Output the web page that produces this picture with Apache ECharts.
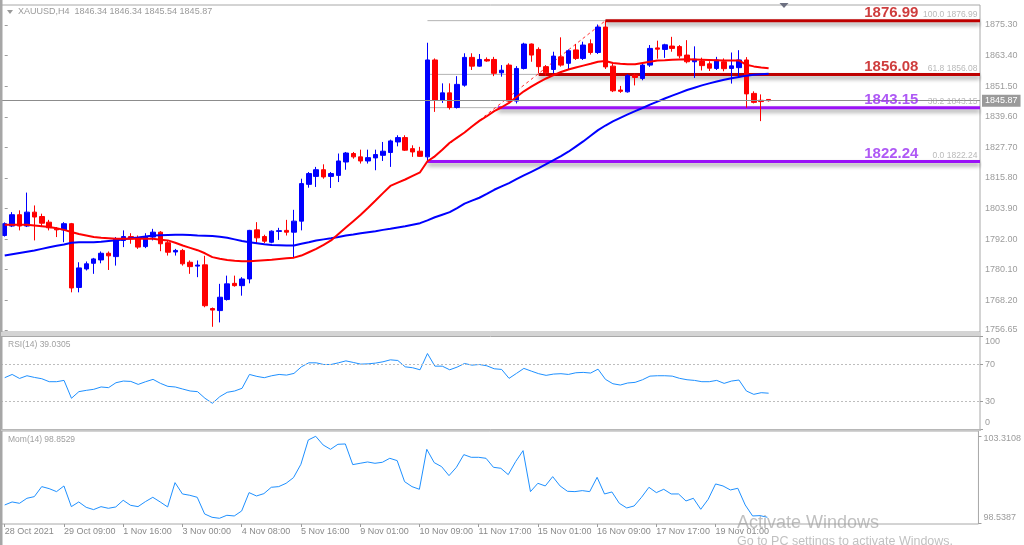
<!DOCTYPE html>
<html><head><meta charset="utf-8">
<script src="https://cdn.jsdelivr.net/npm/echarts@6/dist/echarts.min.js"></script>
<style>html,body{margin:0;padding:0;background:#fff}#c{width:1024px;height:545px}</style>
</head><body><div id="c"></div>
<script>
// ---------------- DATA ----------------
const dateLabels = ['28 Oct 2021','29 Oct 09:00','1 Nov 16:00','3 Nov 00:00','4 Nov 08:00','5 Nov 16:00','9 Nov 01:00','10 Nov 09:00','11 Nov 17:00','15 Nov 01:00','16 Nov 09:00','17 Nov 17:00','19 Nov 01:00'];

const opens = [1793.4,1797.1,1801.5,1797.1,1802.5,1800.8,1798.6,1796.0,1795.6,1798.0,
1773.2,1780.4,1782.6,1783.9,1786.5,1785.2,1791.5,1793.0,1792.5,1789.1,
1792.8,1794.7,1790.6,1787.0,1787.6,1783.0,1781.5,1782.0,1765.0,1764.2,
1768.5,1774.8,1773.9,1776.5,1795.6,1793.0,1790.8,1795.0,1795.4,1794.7,
1799.0,1813.3,1816.4,1819.0,1816.4,1816.8,1822.0,1825.3,1824.0,1822.4,
1823.6,1824.6,1825.7,1829.8,1831.5,1827.2,1826.2,1824.0,1861.7,1846.1,
1848.9,1843.2,1851.9,1862.7,1859.3,1861.9,1861.9,1856.7,1859.7,1845.7,
1858.4,1867.9,1865.8,1859.1,1858.0,1862.9,1860.4,1865.6,1862.3,1868.0,
1864.6,1874.5,1859.3,1850.0,1849.3,1855.8,1854.5,1859.7,1866.4,1865.8,
1867.1,1866.9,1863.6,1861.0,1861.3,1860.2,1858.4,1861.0,1858.4,1858.7,
1861.7,1848.7,1846.0,1846.34];
const highs = [1798.5,1802.5,1803.2,1810.1,1805.1,1801.9,1799.5,1796.7,1798.6,1798.3,
1783.0,1783.3,1784.7,1787.2,1787.2,1792.8,1795.4,1794.3,1793.4,1794.3,
1796.0,1795.1,1791.5,1788.2,1788.2,1783.7,1783.7,1785.5,1765.4,1774.6,
1777.8,1777.8,1777.2,1795.6,1798.6,1793.7,1795.4,1796.4,1799.5,1803.4,
1815.5,1818.1,1820.1,1821.1,1818.1,1825.3,1825.9,1825.9,1826.8,1826.8,
1826.8,1829.8,1830.7,1832.4,1832.4,1828.5,1827.9,1868.4,1862.3,1852.6,
1852.6,1855.4,1864.3,1864.3,1864.0,1862.7,1862.9,1859.7,1860.4,1859.3,
1868.4,1868.1,1866.6,1859.7,1864.9,1870.5,1865.8,1867.9,1868.8,1869.7,
1875.5,1876.99,1860.2,1851.6,1856.2,1856.4,1860.4,1867.5,1869.2,1868.0,
1870.7,1867.5,1869.4,1867.0,1862.6,1861.2,1862.9,1862.3,1864.6,1865.5,
1862.8,1849.5,1848.3,1846.34];
const lows = [1793.0,1796.7,1795.4,1796.7,1791.5,1796.7,1795.4,1792.8,1790.8,1771.3,
1771.3,1779.8,1778.5,1782.6,1780.0,1781.7,1788.9,1790.2,1788.2,1788.5,
1791.5,1787.3,1785.6,1785.6,1781.7,1778.5,1777.2,1765.5,1757.9,1759.6,
1768.1,1773.5,1770.0,1774.8,1790.4,1790.4,1790.4,1791.7,1793.4,1785.0,
1795.4,1812.0,1812.3,1815.5,1811.9,1814.2,1819.0,1823.3,1821.4,1821.4,
1818.8,1822.4,1820.1,1828.1,1826.3,1824.0,1824.0,1822.24,1841.5,1845.0,
1842.4,1842.8,1851.3,1857.8,1859.1,1861.0,1855.4,1855.2,1845.4,1844.8,
1858.0,1861.0,1856.5,1855.6,1856.5,1859.1,1857.8,1861.7,1861.7,1863.8,
1864.0,1858.2,1849.2,1848.9,1849.0,1851.8,1853.8,1859.0,1862.2,1862.5,
1864.9,1862.3,1860.4,1854.7,1857.6,1857.4,1857.8,1857.3,1852.5,1855.0,
1843.15,1844.8,1837.9,1845.54];
const closes = [1798.0,1801.5,1797.1,1802.5,1800.6,1798.2,1796.4,1795.6,1798.0,1773.0,
1780.8,1782.4,1784.3,1786.5,1785.5,1792.1,1793.0,1792.1,1788.9,1793.0,
1794.7,1790.2,1786.9,1787.6,1782.4,1781.3,1781.9,1766.1,1764.4,1769.4,
1774.6,1773.9,1776.5,1795.4,1792.5,1791.2,1795.1,1795.3,1794.7,1799.0,
1813.6,1817.5,1819.0,1816.2,1817.5,1822.4,1825.5,1824.0,1822.4,1823.7,
1824.9,1826.2,1830.2,1831.5,1826.6,1825.9,1824.2,1861.7,1846.1,1848.9,
1843.2,1852.2,1862.7,1859.3,1861.9,1861.3,1856.5,1857.7,1845.7,1858.4,
1867.9,1863.6,1859.1,1856.7,1863.2,1859.7,1865.3,1862.3,1867.5,1864.6,
1874.5,1859.0,1849.7,1849.5,1855.6,1854.9,1859.7,1866.2,1865.9,1867.6,
1866.2,1863.3,1861.0,1862.0,1859.5,1858.5,1861.7,1858.3,1859.4,1861.7,
1848.5,1845.2,1845.5,1845.87];

const maFast = [1797.6,1797.6,1797.6,1797.6,1797.3,1797.0,1796.7,1796.2,1795.6,1794.8,
1794.0,1793.4,1792.8,1792.5,1792.3,1792.1,1792.1,1792.1,1792.1,1792.1,
1792.1,1791.8,1791.5,1790.6,1789.5,1788.6,1787.7,1786.5,1785.0,1784.4,
1783.9,1783.6,1783.4,1783.4,1783.6,1783.8,1784.0,1784.3,1784.6,1784.8,
1785.6,1786.9,1788.2,1789.8,1791.5,1794.0,1796.5,1799.0,1801.5,1804.2,
1807.0,1809.9,1812.7,1814.0,1815.2,1816.6,1818.0,1822.3,1824.2,1826.8,
1829.5,1831.5,1833.5,1835.8,1838.0,1839.8,1841.8,1843.3,1845.0,1847.3,
1849.5,1851.3,1853.0,1854.5,1855.8,1857.0,1858.0,1858.8,1859.5,1860.2,
1861.0,1861.3,1860.5,1860.2,1860.0,1860.0,1860.5,1861.0,1861.5,1861.6,
1861.8,1861.9,1862.0,1861.9,1861.8,1861.7,1861.6,1861.5,1861.5,1861.5,
1859.8,1859.2,1858.8,1858.5];
const maSlow = [1785.6,1786.1,1786.6,1787.1,1787.6,1788.2,1788.8,1789.4,1789.9,1790.6,
1790.8,1790.8,1790.8,1791.0,1791.3,1791.6,1791.9,1792.3,1792.6,1793.0,
1793.4,1793.5,1793.6,1793.7,1793.7,1793.6,1793.4,1793.3,1793.2,1792.9,
1792.5,1791.9,1791.3,1790.8,1790.4,1790.0,1789.7,1789.6,1789.5,1789.5,
1790.2,1790.8,1791.5,1791.9,1792.3,1792.8,1793.4,1793.8,1794.3,1794.7,
1795.1,1795.6,1796.0,1796.5,1797.0,1797.6,1798.2,1799.3,1800.5,1801.5,
1802.5,1804.1,1805.8,1807.0,1808.1,1809.6,1811.2,1812.5,1813.8,1815.3,
1816.8,1818.2,1819.6,1821.2,1822.7,1824.3,1826.0,1828.0,1830.0,1832.2,
1834.4,1836.2,1837.8,1839.2,1840.5,1841.8,1843.0,1844.3,1845.5,1846.7,
1847.8,1848.9,1850.0,1850.9,1851.8,1852.6,1853.3,1854.0,1854.6,1855.1,
1855.6,1855.9,1856.1,1856.3];

const rsi = [55.7,59.2,54.9,57.8,56.0,54.6,51.4,51.4,52.8,33.6,
40.7,42.1,43.2,45.7,45.0,50.3,52.1,51.7,48.5,51.4,
53.9,49.6,46.4,45.7,43.5,41.4,40.7,33.6,28.2,35.3,
40.0,41.4,44.3,59.2,57.1,55.7,57.8,59.2,58.5,60.3,
67.4,71.7,71.7,69.9,69.9,71.7,73.8,72.1,70.3,70.6,
71.4,72.8,74.9,74.2,67.4,66.4,64.2,81.7,68.1,68.1,
64.2,67.1,71.0,69.2,69.9,68.5,65.3,64.6,55.0,60.3,
65.7,62.8,60.0,58.2,59.6,60.0,59.2,61.0,61.4,60.7,
64.9,53.9,49.2,47.8,50.0,50.7,53.5,57.4,57.8,57.8,
57.4,55.0,53.5,52.8,51.4,51.4,52.8,49.6,52.1,53.2,
41.4,37.8,39.6,39.03];
const mom = [99.532,99.697,99.623,99.899,99.990,100.541,100.431,100.266,100.577,99.440,
99.697,99.403,99.275,99.440,99.348,99.422,99.789,99.513,99.440,99.715,
99.954,99.697,99.422,100.761,100.137,100.064,99.954,99.036,98.853,98.798,
98.963,98.926,99.201,100.211,100.027,100.155,100.504,100.541,100.724,101.036,
101.770,103.109,103.311,102.834,102.595,102.871,102.889,101.752,101.825,101.898,
101.825,101.880,102.100,101.972,100.816,100.541,100.394,102.595,101.862,101.641,
101.146,101.605,102.302,102.155,102.155,102.100,101.605,101.550,101.201,101.917,
102.522,100.266,100.724,100.577,101.091,100.577,100.284,100.266,100.321,100.266,
101.054,100.137,100.247,99.623,99.367,99.477,99.954,100.504,100.211,100.394,
100.137,100.137,99.752,99.899,99.293,99.844,100.688,100.577,100.357,100.449,
99.532,98.926,98.945,98.8529];

const priceTickLabels = ['1875.30','1863.40','1851.50','1839.60','1827.70','1815.80','1803.90','1792.00','1780.10','1768.20','1756.65'];
const rsiTicks = [100, 70, 30, 0];
const rsiLevels = [70, 30];
const momTickLabels = ['103.3108', '98.5387'];

const levelPrices = [1876.99, 1856.08, 1843.15, 1822.24];
const levelStartBar = [81, 72, 66.5, 57];
const fibPercents = ['100.0', '61.8', '38.2', '0.0'];
const fibStartBar = 57;
const fibTrend = [[57, 1822.24], [81, 1876.99]];
const currentPrice = 1845.87;
const rsiTitle = 'RSI(14) 39.0305';
const momTitle = 'Mom(14) 98.8529';

// ---------------- CHART ----------------
const FF = "'Liberation Sans', Arial, sans-serif";
const NSLOT = 132;
const X_END = NSLOT - 0.5;
const LABEL_STEP = 8;
const slots = Array.from({length: NSLOT}, (_, i) => String(i));
const candleData = opens.map((o, i) => [o, closes[i], lows[i], highs[i]]);
const lineColors = ['#be0000', '#be0000', '#9a12f7', '#9a12f7'];
const textColors = ['#c20d0d', '#c20d0d', '#9a2ef2', '#9a2ef2'];
const AX = '#9c9c9c';
const showDate = idx => idx % LABEL_STEP === 0 && idx / LABEL_STEP < dateLabels.length;

const series = [];
series.push({
  type: 'candlestick', xAxisIndex: 0, yAxisIndex: 0, data: candleData, barWidth: 5, z: 3,
  itemStyle: {color: '#0000ff', color0: '#ff0000', borderColor: '#0000ff', borderColor0: '#ff0000', borderWidth: 1},
  markLine: {
    silent: true, symbol: 'none', animation: false,
    lineStyle: {color: '#8c8c8c', width: 1, type: 'solid'},
    label: {show: true, position: 'end', distance: 2, formatter: currentPrice.toFixed(2),
      backgroundColor: '#9a9a9a', color: '#fff', padding: [2, 3, 1, 3], fontSize: 9, fontFamily: FF},
    data: [{yAxis: currentPrice}]
  }
});
levelPrices.forEach(p => series.push({
  type: 'line', xAxisIndex: 1, yAxisIndex: 0, data: [[fibStartBar, p], [X_END, p]], symbol: 'none', silent: true,
  lineStyle: {color: '#b4b4b4', width: 1}, z: 1
}));
levelPrices.forEach((p, i) => series.push({
  type: 'line', xAxisIndex: 1, yAxisIndex: 0, data: [[levelStartBar[i], p], [X_END, p]], symbol: 'none', silent: true,
  lineStyle: {color: lineColors[i], width: 3, shadowColor: 'rgba(0,0,0,0.4)', shadowBlur: 4, shadowOffsetY: 3}, z: 1
}));
series.push({
  type: 'line', xAxisIndex: 1, yAxisIndex: 0, data: fibTrend, symbol: 'none', silent: true,
  lineStyle: {color: '#ff3030', width: 1, type: [3, 3]}, z: 2
});
series.push({type: 'line', xAxisIndex: 0, yAxisIndex: 0, data: maSlow, symbol: 'none', silent: true, lineStyle: {color: '#0000ff', width: 2}, z: 4});
series.push({type: 'line', xAxisIndex: 0, yAxisIndex: 0, data: maFast, symbol: 'none', silent: true, lineStyle: {color: '#ff0000', width: 2}, z: 4});
const bigLabels = levelPrices.map((p, i) => ({
  value: [123.27, p],
  label: {show: true, position: 'left', distance: 0, offset: [0, -8], formatter: p.toFixed(2),
    color: textColors[i], fontSize: 15, fontWeight: 'bold', fontFamily: FF}
}));
const fibLabels = levelPrices.map((p, i) => ({
  value: [131.22, p],
  label: {show: true, position: 'left', distance: 0, offset: [0, -6], formatter: fibPercents[i] + ' ' + p.toFixed(2),
    color: '#a8a8a8', fontSize: 8.5, fontFamily: FF}
}));
series.push({
  type: 'scatter', xAxisIndex: 1, yAxisIndex: 0, symbol: 'circle', symbolSize: 1, silent: true,
  itemStyle: {color: 'rgba(0,0,0,0)'}, data: bigLabels.concat(fibLabels), z: 6
});
series.push({
  type: 'line', xAxisIndex: 2, yAxisIndex: 1, data: rsi, symbol: 'none', silent: true,
  lineStyle: {color: '#1e90ff', width: 1},
  markLine: {silent: true, symbol: 'none', animation: false, label: {show: false},
    lineStyle: {color: '#bdbdbd', width: 1, type: [2, 2]}, data: rsiLevels.map(v => ({yAxis: v}))}
});
series.push({
  type: 'line', xAxisIndex: 3, yAxisIndex: 2, data: mom, symbol: 'none', silent: true,
  lineStyle: {color: '#1e90ff', width: 1}
});

const gridBase = {left: 1, width: 979, show: true, borderColor: '#a8a8a8', borderWidth: 1, backgroundColor: '#fff'};
const labelBase = {color: AX, fontSize: 9, fontFamily: FF};
const hiddenCat = gi => ({type: 'category', gridIndex: gi, data: slots, boundaryGap: true,
  axisLine: {show: false}, axisTick: {show: false}, axisLabel: {show: false}, splitLine: {show: false}});

const titleText = 'XAUUSD,H4  ' + opens[103].toFixed(2) + ' ' + highs[103].toFixed(2) + ' ' + lows[103].toFixed(2) + ' ' + closes[103].toFixed(2);

const option = {
  animation: false,
  backgroundColor: '#fff',
  textStyle: {fontFamily: FF},
  grid: [
    Object.assign({top: 5, height: 327}, gridBase),
    Object.assign({top: 336.5, height: 93}, gridBase),
    Object.assign({top: 431, height: 93}, gridBase)
  ],
  xAxis: [
    hiddenCat(0),
    {type: 'value', gridIndex: 0, min: -0.5, max: X_END, show: false, splitLine: {show: false}},
    hiddenCat(1),
    {type: 'category', gridIndex: 2, data: slots, boundaryGap: true,
      axisLine: {show: false},
      axisTick: {show: true, interval: idx => showDate(idx), alignWithLabel: true, length: 3, lineStyle: {color: AX}},
      axisLabel: {interval: idx => showDate(idx), align: 'left', margin: 3, color: '#8a8a8a', fontSize: 9, fontFamily: FF,
        formatter: (v, idx) => dateLabels[idx / LABEL_STEP] || ''},
      splitLine: {show: false}}
  ],
  yAxis: [
    {type: 'value', gridIndex: 0, position: 'right', min: 1755.87, max: 1883.08,
      splitLine: {show: false}, axisLine: {show: false},
      axisTick: {show: true, length: 3, customValues: priceTickLabels.map(Number), lineStyle: {color: AX}},
      axisLabel: Object.assign({margin: 5, customValues: priceTickLabels.map(Number), formatter: v => v.toFixed(2)}, labelBase)},
    {type: 'value', gridIndex: 1, position: 'right', min: 0, max: 100,
      splitLine: {show: false}, axisLine: {show: false},
      axisTick: {show: true, length: 3, customValues: rsiTicks, lineStyle: {color: AX}},
      axisLabel: Object.assign({margin: 5, customValues: rsiTicks,
        formatter: v => v === 100 ? '{a|100}' : (v === 0 ? '{b|0}' : '{c|' + v + '}'),
        rich: {a: Object.assign({padding: [11, 0, 0, 0]}, labelBase), b: Object.assign({padding: [0, 0, 13, 0]}, labelBase), c: labelBase}
      }, labelBase)},
    {type: 'value', gridIndex: 2, position: 'right', min: 98.4837, max: 103.6025,
      splitLine: {show: false}, axisLine: {show: false},
      axisTick: {show: true, length: 3, customValues: momTickLabels.map(Number), lineStyle: {color: AX}},
      axisLabel: Object.assign({margin: 5, customValues: momTickLabels.map(Number),
        formatter: v => v > 100 ? '{a|' + momTickLabels[0] + '}' : '{b|' + momTickLabels[1] + '}',
        rich: {a: Object.assign({padding: [5, 0, 0, 0]}, labelBase), b: Object.assign({padding: [0, 0, 11, 0]}, labelBase)}
      }, labelBase)}
  ],
  graphic: [
    {type: 'rect', z: 100, silent: true, shape: {x: 0, y: 0, width: 2.5, height: 545}, style: {fill: '#a6a6a6'}},
    {type: 'rect', z: 100, silent: true, shape: {x: 1, y: 332, width: 980, height: 4}, style: {fill: '#d4d4d4'}},
    {type: 'rect', z: 100, silent: true, shape: {x: 1, y: 429.5, width: 980, height: 1.5}, style: {fill: '#c6c6c6'}},
    {type: 'polygon', z: 100, silent: true, shape: {points: [[7, 10], [13, 10], [10, 14]]}, style: {fill: '#9a9a9a'}},
    {type: 'text', z: 100, silent: true, x: 18, y: 12, style: {text: titleText, fill: '#9a9a9a', font: '9px ' + FF, verticalAlign: 'middle'}},
    {type: 'polygon', z: 100, silent: true, shape: {points: [[779.5, 3], [788.5, 3], [784, 8]]}, style: {fill: '#6c6f80'}},
    {type: 'text', z: 100, silent: true, x: 8, y: 345, style: {text: rsiTitle, fill: '#a0a0a0', font: '8.5px ' + FF, verticalAlign: 'middle'}},
    {type: 'text', z: 100, silent: true, x: 8, y: 440, style: {text: momTitle, fill: '#a0a0a0', font: '8.5px ' + FF, verticalAlign: 'middle'}},
    {type: 'text', z: 100, silent: true, x: 737, y: 523, style: {text: 'Activate Windows', fill: 'rgba(150,150,150,0.6)', font: '18px ' + FF, verticalAlign: 'middle'}},
    {type: 'text', z: 100, silent: true, x: 737, y: 542, style: {text: 'Go to PC settings to activate Windows.', fill: 'rgba(150,150,150,0.6)', font: '12.5px ' + FF, verticalAlign: 'middle'}}
  ],
  series: series
};
const chart = echarts.init(document.getElementById('c'), null, {renderer: 'canvas'});
chart.setOption(option);
</script>
</body></html>
